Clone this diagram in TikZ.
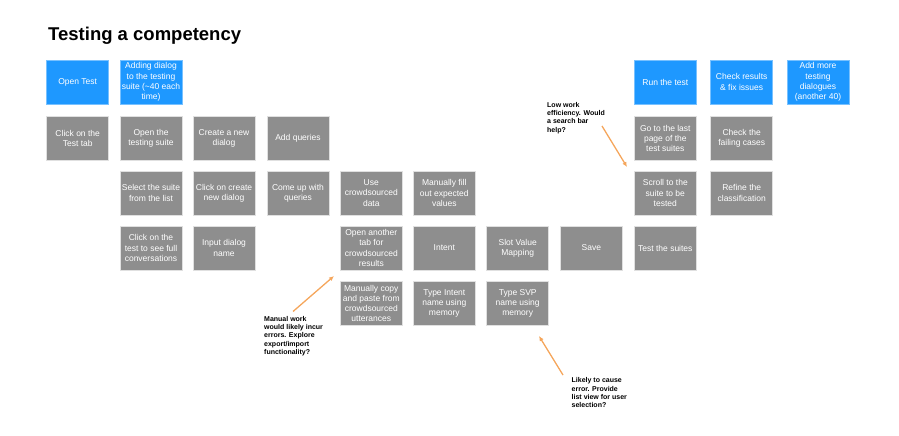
\documentclass[tikz,border=0pt]{standalone}
\usepackage{fontspec}
\setmainfont{Liberation Sans}
\usepackage{xcolor}
\usepackage{tikz}
\usetikzlibrary{arrows.meta}

\definecolor{bleuetape}{HTML}{1E98FF}
\definecolor{grisetape}{HTML}{8E8E8E}
\definecolor{orangenote}{HTML}{F5A65C}

\begin{document}
\begin{tikzpicture}[x=1pt, y=-1pt,
  etape/.style={draw=black!12, line width=0.8pt, fill=grisetape, text=white,
    minimum width=62pt, minimum height=44pt, inner sep=1pt, align=center,
    font=\fontsize{8.5}{10.3}\selectfont},
  phase/.style={etape, fill=bleuetape, draw=bleuetape!60!white},
  remarque/.style={anchor=north west, inner sep=0pt, align=left,
    font=\fontsize{7}{8.3}\selectfont\bfseries},
  fleche/.style={orangenote, line width=1.3pt, -{Latex[length=5pt,width=4.5pt]}}]
  \useasboundingbox (0,0) rectangle (899,436);

  % Titre
  \node[anchor=base west, inner sep=0pt, font=\fontsize{18.5}{20}\selectfont\bfseries]
    (titre) at (48,41) {Testing a competency};

  % Phases (en bleu)
  \node[phase] (ouvrir) at (77.7,82) {Open Test};
  \node[phase] (ajouter) at (151,82) {Adding dialog\\to the testing\\suite (\textasciitilde40 each\\time)};
  \node[phase] (lancer) at (665.3,82) {Run the test};
  \node[phase] (verifier) at (741.7,82) {Check results\\\& fix issues};
  \node[phase] (plus) at (818,82) {Add more\\testing\\dialogues\\(another 40)};

  % Colonne 1
  \node[etape] (onglet) at (77.7,138.5) {Click on the\\Test tab};

  % Colonne 2
  \node[etape] (suite) at (151,138.5) {Open the\\testing suite};
  \node[etape] (choisir) at (151,193) {Select the suite\\from the list};
  \node[etape] (voir) at (151,248) {Click on the\\test to see full\\conversations};

  % Colonne 3
  \node[etape] (creer) at (224,138.5) {Create a new\\dialog};
  \node[etape] (cliquer) at (224,193) {Click on create\\new dialog};
  \node[etape] (nom) at (224,248) {Input dialog\\name};

  % Colonne 4
  \node[etape] (requetes) at (298,138.5) {Add queries};
  \node[etape] (imaginer) at (298,193) {Come up with\\queries};

  % Colonne 5
  \node[etape] (donnees) at (371.3,193) {Use\\crowdsourced\\data};
  \node[etape] (onglet2) at (371.3,248) {Open another\\tab for\\crowdsourced\\results};
  \node[etape] (copier) at (371.3,303.5) {Manually copy\\and paste from\\crowdsourced\\utterances};

  % Colonne 6
  \node[etape] (remplir) at (444.3,193) {Manually fill\\out expected\\values};
  \node[etape] (intent) at (444.3,248) {Intent};
  \node[etape] (taperI) at (444.3,303.5) {Type Intent\\name using\\memory};

  % Colonne 7
  \node[etape] (svp) at (517.7,248) {Slot Value\\Mapping};
  \node[etape] (taperS) at (517.7,303.5) {Type SVP\\name using\\memory};

  % Colonne 8
  \node[etape] (sauver) at (591.3,248) {Save};

  % Colonne 9
  \node[etape] (page) at (665.3,138.5) {Go to the last\\page of the\\test suites};
  \node[etape] (defiler) at (665.3,193) {Scroll to the\\suite to be\\tested};
  \node[etape] (tester) at (665.3,248) {Test the suites};

  % Colonne 10
  \node[etape] (echecs) at (741.7,138.5) {Check the\\failing cases};
  \node[etape] (affiner) at (741.7,193) {Refine the\\classification};

  % Remarques
  \node[remarque] (noteA) at (264,316) {Manual work\\would likely incur\\errors. Explore\\export/import\\functionality?};
  \node[remarque] (noteB) at (571.5,377.5) {Likely to cause\\error. Provide\\list view for user\\selection?};
  \node[remarque] (noteC) at (547,102) {Low work\\efficiency. Would\\a search bar\\help?};

  % Fleches des remarques
  \coordinate (queueA) at (293,311.5);
  \coordinate (pointeA) at (334,276);
  \coordinate (queueB) at (563,375);
  \coordinate (pointeB) at (539,336);
  \coordinate (queueC) at (602,126);
  \coordinate (pointeC) at (627,167);
  \draw[fleche] (queueA) -- (pointeA);
  \draw[fleche] (queueB) -- (pointeB);
  \draw[fleche] (queueC) -- (pointeC);
\end{tikzpicture}
\end{document}
